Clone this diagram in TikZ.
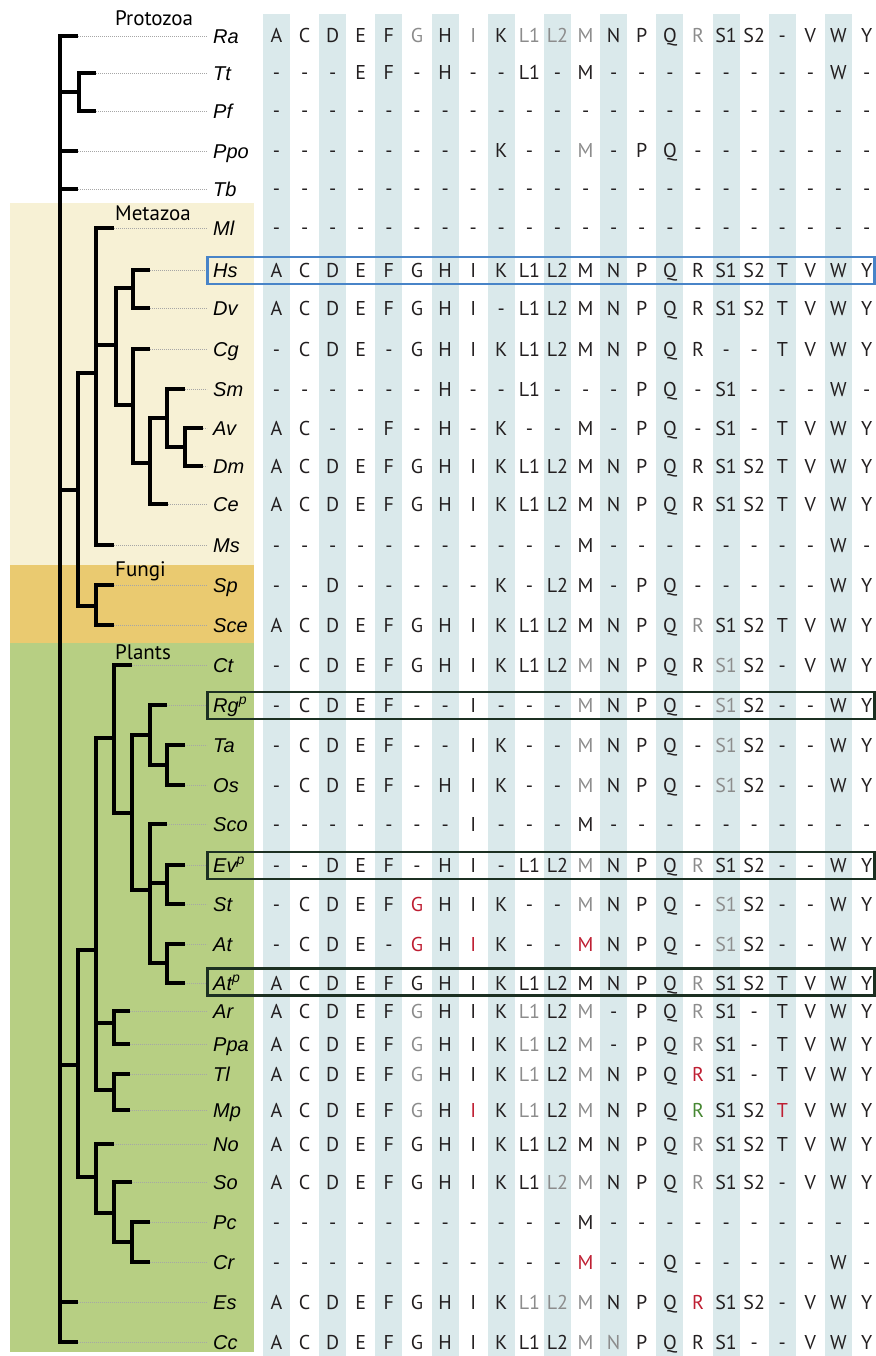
\documentclass[tikz,border=0pt]{standalone}
\usepackage{fontspec}
\setmainfont{PT Sans}
\newfontfamily\spfont{Liberation Sans}
\usepackage{tikz}
\usetikzlibrary{positioning}
\definecolor{stripecol}{RGB}{218,233,235}
\definecolor{metacol}{RGB}{247,241,213}
\definecolor{fungicol}{RGB}{234,202,112}
\definecolor{plantcol}{RGB}{183,207,131}
\definecolor{hsblue}{RGB}{72,132,200}
\definecolor{boxdark}{RGB}{28,48,34}
\definecolor{colx}{RGB}{35,31,32}
\definecolor{cold}{RGB}{35,31,32}
\definecolor{colg}{RGB}{140,140,140}
\definecolor{colr}{RGB}{190,30,50}
\definecolor{cole}{RGB}{70,135,50}

\newcommand{\colname}[1]{\ifcase#1 A\or C\or D\or E\or F\or G\or H\or I\or K\or L1\or L2\or M\or N\or P\or Q\or R\or S1\or S2\or T\or V\or W\or Y\fi}
% one row: id, y, tip x, label, codes
\newcommand{\tabrow}[5]{%
  \coordinate (t#1) at (#3,#2);
  \node[species] (sp-#1) at (213,#2) {#4};
  \draw[leader] (t#1) -- (sp-#1);
  \foreach \v [count=\i from 0] in {#5}
    \node[cell, text=col\v] (#1-\i) at (276.5+28.1*\i,#2) {\if\v d-\else\colname{\i}\fi};
}

\begin{document}
\begin{tikzpicture}[x=1pt, y=-1pt,
  branch/.style={line width=4.4pt, black},
  leader/.style={draw=gray!70, line width=0.8pt, dash pattern=on 0.9pt off 1.1pt, shorten >=6pt},
  species/.style={anchor=west, inner sep=0pt, text height=14.3pt, text depth=0pt,
                  font=\spfont\itshape\fontsize{20}{20}\selectfont},
  cell/.style={inner sep=0pt, text height=14pt, text depth=0pt, font=\fontsize{20}{20}\selectfont},
  group/.style={anchor=west, inner sep=0pt, font=\fontsize{21}{21}\selectfont},
  rowbox/.style={draw, line width=2.6pt, minimum width=667pt, minimum height=27pt,
                 anchor=west, inner sep=0pt}]
  \useasboundingbox (0,0) rectangle (875,1356);

  \fill[metacol] (10,203) rectangle (254,565);
  \fill[fungicol] (10,565) rectangle (254,643);
  \fill[plantcol] (10,643) rectangle (254,1352);
  \foreach \i in {0,2,...,20}
    \fill[stripecol] (263+28.1*\i,14) rectangle ++(27,1342);

  \tabrow{Ra}{36}{78}{Ra}{x,x,x,x,x,g,x,g,x,g,g,g,x,x,x,g,x,x,d,x,x,x}
  \tabrow{Tt}{73}{96}{Tt}{d,d,d,x,x,d,x,d,d,x,d,x,d,d,d,d,d,d,d,d,x,d}
  \tabrow{Pf}{111}{96}{Pf}{d,d,d,d,d,d,d,d,d,d,d,d,d,d,d,d,d,d,d,d,d,d}
  \tabrow{Ppo}{151}{78}{Ppo}{d,d,d,d,d,d,d,d,x,d,d,g,d,x,x,d,d,d,d,d,d,d}
  \tabrow{Tb}{189}{78}{Tb}{d,d,d,d,d,d,d,d,d,d,d,d,d,d,d,d,d,d,d,d,d,d}
  \tabrow{Ml}{228}{114}{Ml}{d,d,d,d,d,d,d,d,d,d,d,d,d,d,d,d,d,d,d,d,d,d}
  \tabrow{Hs}{270}{150}{Hs}{x,x,x,x,x,x,x,x,x,x,x,x,x,x,x,x,x,x,x,x,x,x}
  \tabrow{Dv}{308}{150}{Dv}{x,x,x,x,x,x,x,x,d,x,x,x,x,x,x,x,x,x,x,x,x,x}
  \tabrow{Cg}{349}{150}{Cg}{d,x,x,x,d,x,x,x,x,x,x,x,x,x,x,x,d,d,x,x,x,x}
  \tabrow{Sm}{389}{185}{Sm}{d,d,d,d,d,d,x,d,d,x,d,d,d,x,x,d,x,d,d,d,x,d}
  \tabrow{Av}{428}{203}{Av}{x,x,d,d,x,d,x,d,x,d,d,x,d,x,x,d,x,d,x,x,x,x}
  \tabrow{Dm}{466}{203}{Dm}{x,x,x,x,x,x,x,x,x,x,x,x,x,x,x,x,x,x,x,x,x,x}
  \tabrow{Ce}{504}{168}{Ce}{x,x,x,x,x,x,x,x,x,x,x,x,x,x,x,x,x,x,x,x,x,x}
  \tabrow{Ms}{545}{114}{Ms}{d,d,d,d,d,d,d,d,d,d,d,x,d,d,d,d,d,d,d,d,x,d}
  \tabrow{Sp}{585}{114}{Sp}{d,d,x,d,d,d,d,d,x,d,x,x,d,x,x,d,d,d,d,d,x,x}
  \tabrow{Sce}{625}{114}{Sce}{x,x,x,x,x,x,x,x,x,x,x,x,x,x,x,g,x,x,x,x,x,x}
  \tabrow{Ct}{665}{132}{Ct}{d,x,x,x,x,x,x,x,x,x,x,g,x,x,x,x,g,x,d,x,x,x}
  \tabrow{Rg}{705}{167}{Rg\textsuperscript{p}}{d,x,x,x,x,d,d,x,d,d,d,g,x,x,x,d,g,x,d,d,x,x}
  \tabrow{Ta}{745}{185}{Ta}{d,x,x,x,x,d,d,x,x,d,d,g,x,x,x,d,g,x,d,d,x,x}
  \tabrow{Os}{785}{185}{Os}{d,x,x,x,x,d,x,x,x,d,d,g,x,x,x,d,g,x,d,d,x,x}
  \tabrow{Sco}{824}{167}{Sco}{d,d,d,d,d,d,d,x,d,d,d,x,d,d,d,d,d,d,d,d,d,d}
  \tabrow{Ev}{865}{185}{Ev\textsuperscript{p}}{d,d,x,x,x,d,x,x,d,x,x,g,x,x,x,g,x,x,d,d,x,x}
  \tabrow{St}{904}{185}{St}{d,x,x,x,x,r,x,x,x,d,d,g,x,x,x,d,g,x,d,d,x,x}
  \tabrow{At}{944}{185}{At}{d,x,x,x,d,r,x,r,x,d,d,r,x,x,x,d,g,x,d,d,x,x}
  \tabrow{Atp}{983}{185}{At\textsuperscript{p}}{x,x,x,x,x,x,x,x,x,x,x,x,x,x,x,g,x,x,x,x,x,x}
  \tabrow{Ar}{1011}{130}{Ar}{x,x,x,x,x,g,x,x,x,g,x,g,d,x,x,g,x,d,x,x,x,x}
  \tabrow{Ppa}{1044}{130}{Ppa}{x,x,x,x,x,g,x,x,x,g,x,g,d,x,x,g,x,d,x,x,x,x}
  \tabrow{Tl}{1074}{130}{Tl}{x,x,x,x,x,g,x,x,x,g,x,g,x,x,x,r,x,d,x,x,x,x}
  \tabrow{Mp}{1110}{130}{Mp}{x,x,x,x,x,g,x,r,x,g,x,g,x,x,x,e,x,x,r,x,x,x}
  \tabrow{No}{1144}{114}{No}{x,x,x,x,x,x,x,x,x,x,x,x,x,x,x,g,x,x,x,x,x,x}
  \tabrow{So}{1182}{132}{So}{x,x,x,x,x,x,x,x,x,x,g,g,x,x,x,g,x,x,d,x,x,x}
  \tabrow{Pc}{1222}{150}{Pc}{d,d,d,d,d,d,d,d,d,d,d,x,d,d,d,d,d,d,d,d,d,d}
  \tabrow{Cr}{1262}{150}{Cr}{d,d,d,d,d,d,d,d,d,d,d,r,d,d,x,d,d,d,d,d,x,d}
  \tabrow{Es}{1302}{78}{Es}{x,x,x,x,x,x,x,x,x,g,g,g,x,x,x,r,x,x,d,x,x,x}
  \tabrow{Cc}{1342}{78}{Cc}{x,x,x,x,x,x,x,x,x,x,x,g,g,x,x,x,x,d,d,x,x,x}

  % inner nodes of the tree
  \coordinate (root) at (60,690);
  \coordinate (nTP) at (79,92);
  \coordinate (nMF) at (78,490);
  \coordinate (nMet) at (96,373);
  \coordinate (nA) at (116,345);
  \coordinate (nHD) at (133,288);
  \coordinate (nB) at (133,405);
  \coordinate (nC) at (150,463);
  \coordinate (nD) at (167,418);
  \coordinate (nAD) at (185,447);
  \coordinate (nFun) at (96,606);
  \coordinate (nPl) at (78,1065);
  \coordinate (nPU) at (96,950);
  \coordinate (nE) at (114,738);
  \coordinate (nF) at (132,813);
  \coordinate (nG) at (150,735);
  \coordinate (nTO) at (167,765);
  \coordinate (nH) at (150,890);
  \coordinate (nES) at (167,883);
  \coordinate (nAA) at (167,963);
  \coordinate (nArP) at (114,1023);
  \coordinate (nTM) at (114,1090);
  \coordinate (nPL) at (96,1177);
  \coordinate (nI) at (114,1213);
  \coordinate (nPC) at (132,1242);

  \foreach \p/\c in {root/tRa, root/nTP, root/tPpo, root/tTb, root/nMF, root/nPl,
      root/tEs, root/tCc, nTP/tTt, nTP/tPf, nMF/nMet, nMF/nFun,
      nMet/tMl, nMet/nA, nMet/tMs, nA/nHD, nA/nB, nHD/tHs, nHD/tDv,
      nB/tCg, nB/nC, nC/nD, nC/tCe, nD/tSm, nD/nAD, nAD/tAv, nAD/tDm,
      nFun/tSp, nFun/tSce, nPl/nPU, nPl/nPL, nPU/nE, nPU/nArP, nPU/nTM,
      nE/tCt, nE/nF, nF/nG, nF/nH, nG/tRg, nG/nTO, nTO/tTa, nTO/tOs,
      nH/tSco, nH/nES, nH/nAA, nES/tEv, nES/tSt, nAA/tAt, nAA/tAtp,
      nArP/tAr, nArP/tPpa, nTM/tTl, nTM/tMp, nPL/tNo, nPL/nI,
      nI/tSo, nI/nPC, nPC/tPc, nPC/tCr}
    \draw[branch] (\p) |- (\c);

  \node[rowbox, draw=hsblue] (boxHs) at (206,270.5) {};
  \node[rowbox, draw=boxdark] (boxRg) at (206,705.5) {};
  \node[rowbox, draw=boxdark] (boxEv) at (206,865.5) {};
  \node[rowbox, draw=boxdark] (boxAtp) at (206,982) {};

  \node[group] (protozoa) at (115,18) {Protozoa};
  \node[group] (metazoa) at (115,213) {Metazoa};
  \node[group] (fungi) at (115,571) {Fungi};
  \node[group] (plants) at (115,652) {Plants};
\end{tikzpicture}
\end{document}
